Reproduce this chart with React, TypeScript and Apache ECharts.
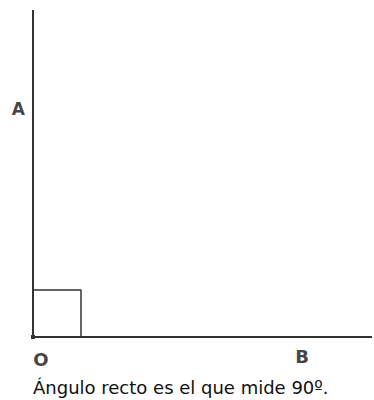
import React, { useEffect, useRef } from "react";
import * as echarts from "echarts";

const axisRays: [number, number][] = [[0, 327], [0, 0], [339, 0]];
const rightAngleMark: [number, number][] = [[0, 47], [48, 47], [48, 0]];
const vertex: [number, number][] = [[0, 0]];
const pointLabels = ["A", "O", "B"];
const labelPoints: [number, number][] = [[0, 228], [0, 0], [269, 0]];
const caption = "Ángulo recto es el que mide 90º.";

export default function App() {
  const ref = useRef<HTMLDivElement>(null);
  useEffect(() => {
    if (!ref.current) return;
    const chart = echarts.init(ref.current, null, { renderer: "svg" });
    const labelPos: any[] = [
      { position: "left", distance: 8, offset: [0, 0], fontSize: 17 },
      { position: "bottom", distance: 13, offset: [8, 0], fontSize: 18 },
      { position: "bottom", distance: 10, offset: [0, 0], fontSize: 18 },
    ];
    chart.setOption({
      animation: false,
      backgroundColor: "#ffffff",
      title: {
        text: caption,
        left: 33,
        top: 378,
        padding: 0,
        textStyle: { fontFamily: "DejaVu Sans", fontSize: 18, fontWeight: "normal", color: "#111" },
      },
      grid: { left: 33, right: 2, top: 10, bottom: 63 },
      xAxis: { type: "value", min: 0, max: 339, show: false },
      yAxis: { type: "value", min: 0, max: 327, show: false },
      series: [
        {
          type: "line",
          data: axisRays,
          symbol: "none",
          lineStyle: { color: "#333333", width: 2 },
          clip: false,
        },
        {
          type: "line",
          data: rightAngleMark,
          symbol: "none",
          lineStyle: { color: "#333333", width: 1.5 },
        },
        {
          type: "scatter",
          data: vertex,
          symbol: "rect",
          symbolSize: 4,
          itemStyle: { color: "#000" },
          clip: false,
        },
        {
          type: "scatter",
          symbolSize: 0,
          clip: false,
          data: labelPoints.map((p, i) => ({
            value: p,
            name: pointLabels[i],
            label: { show: true, formatter: "{b}", ...labelPos[i] },
          })),
          label: {
            fontFamily: "DejaVu Sans",
            fontWeight: "bold",
            fontSize: 17,
            color: "#111",
          },
        },
      ],
    });
    return () => chart.dispose();
  }, []);
  return <div ref={ref} style={{ width: 374, height: 400, position: "fixed", left: 0, top: 0 }} />;
}
